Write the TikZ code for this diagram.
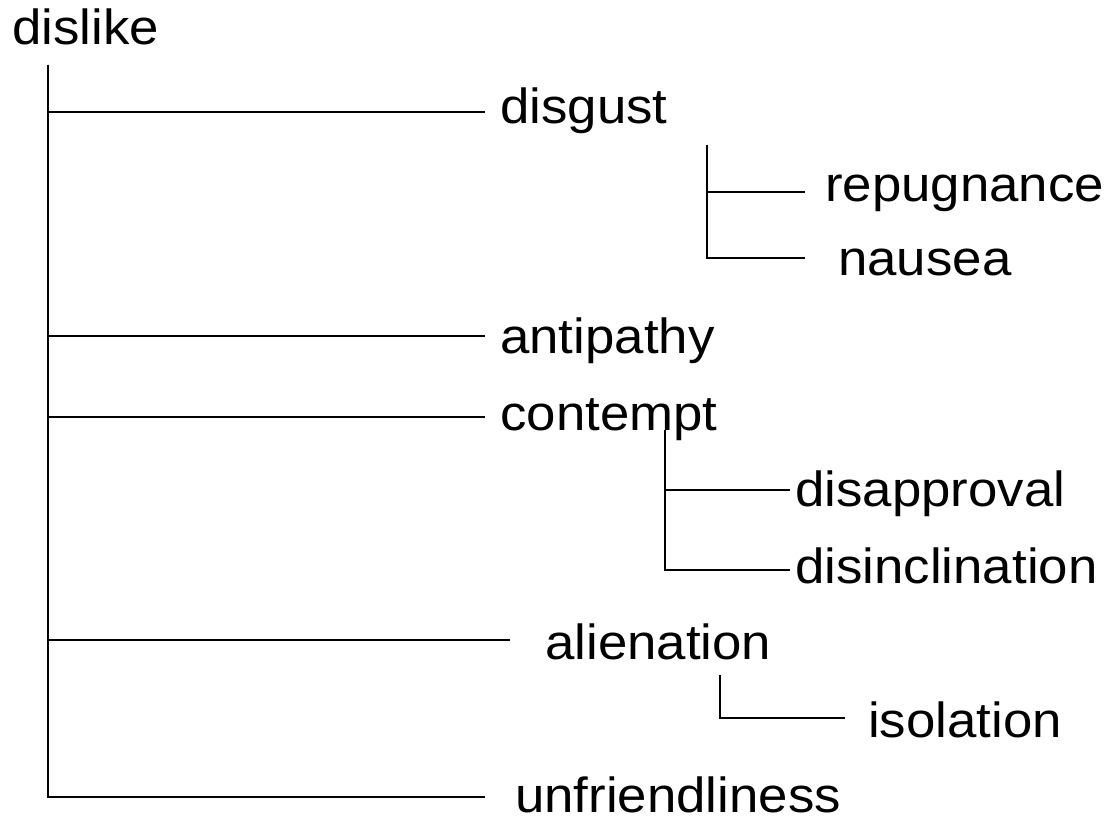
\documentclass[tikz,border=0pt]{standalone}
\usepackage{fontspec}
\setmainfont{Liberation Sans}[FakeStretch=1.07]
\usetikzlibrary{calc}
\tikzset{
    x=0.75pt,
    y=-0.75pt,
    term/.style = {
        shape=rectangle,
        anchor=base west,
        inner sep=0pt,
        font=\fontsize{37}{42}\selectfont
    },
    branch/.style = {
        line width=1.5pt
    },
}
\begin{document}
\begin{tikzpicture}
    \useasboundingbox (0,0) rectangle (1110,817);
    \node[term] (dislike) at (12,45) {dislike};
    \node[term] (disgust) at (500,123) {disgust};
    \node[term] (repugnance) at (825,201) {repugnance};
    \node[term] (nausea) at (838,275) {nausea};
    \node[term] (antipathy) at (500,353) {antipathy};
    \node[term] (contempt) at (500,430) {contempt};
    \node[term] (disapproval) at (795,506) {disapproval};
    \node[term] (disinclination) at (795,583) {disinclination};
    \node[term] (alienation) at (545,659) {alienation};
    \node[term] (isolation) at (868,737) {isolation};
    \node[term] (unfriendliness) at (515,812) {unfriendliness};

    \coordinate (root) at (48,65);
    \coordinate (disgustsub) at (707,145);
    \coordinate (contemptsub) at (665,430);
    \coordinate (alienationsub) at (720,675);

    % main branches
    \draw[branch] (root) |- ($(disgust.base west)+(-15,-11)$);
    \draw[branch] (root) |- ($(antipathy.base west)+(-15,-17)$);
    \draw[branch] (root) |- ($(contempt.base west)+(-15,-13)$);
    \draw[branch] (root) |- ($(alienation.base west)+(-35,-19)$);
    \draw[branch] (root) |- ($(unfriendliness.base west)+(-30,-15)$);
    % sub branches
    \draw[branch] (disgustsub) |- ($(repugnance.base west)+(-20,-9)$);
    \draw[branch] (disgustsub) |- ($(nausea.base west)+(-33,-17)$);
    \draw[branch] (contemptsub) |- ($(disapproval.base west)+(-5,-16)$);
    \draw[branch] (contemptsub) |- ($(disinclination.base west)+(-5,-13)$);
    \draw[branch] (alienationsub) |- ($(isolation.base west)+(-23,-19)$);
\end{tikzpicture}
\end{document}
